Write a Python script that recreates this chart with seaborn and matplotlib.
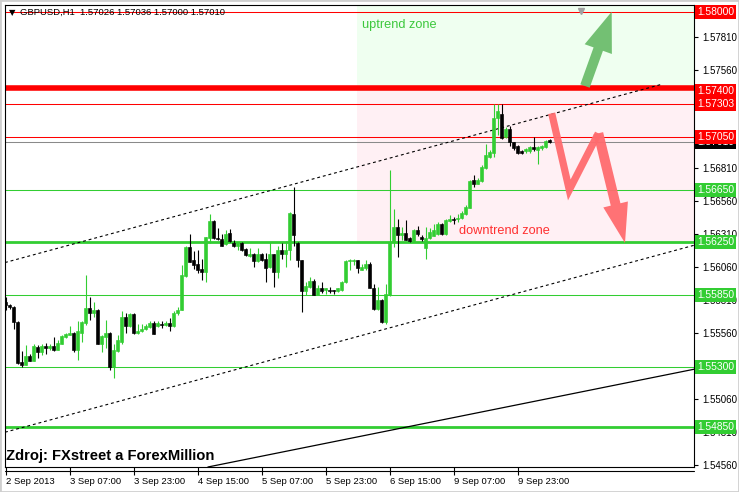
import numpy as np
import pandas as pd
import seaborn as sns
import matplotlib
matplotlib.use("Agg")
import matplotlib.pyplot as plt
from matplotlib.transforms import blended_transform_factory, ScaledTranslation
from matplotlib.patches import FancyArrowPatch, Rectangle

# ---------------- data (GBPUSD H1) ----------------
opens = [1.55794, 1.55771, 1.55761, 1.55648, 1.55339, 1.55319, 1.55384, 1.55349, 1.55455, 1.55417,
         1.55460, 1.55450, 1.55460, 1.55435, 1.55480, 1.55530, 1.55548, 1.55560, 1.55430, 1.55560,
         1.55635, 1.55748, 1.55711, 1.55736, 1.55475, 1.55530, 1.55560, 1.55304, 1.55425, 1.55492,
         1.55686, 1.55618, 1.55706, 1.55560, 1.55575, 1.55590, 1.55605, 1.55640, 1.55618, 1.55633,
         1.55623, 1.55638, 1.55618, 1.55711, 1.55738, 1.55995, 1.56216, 1.56115, 1.56085, 1.56048,
         1.56028, 1.56286, 1.56411, 1.56286, 1.56278, 1.56236, 1.56321, 1.56248, 1.56223, 1.56248,
         1.56198, 1.56148, 1.56160, 1.56110, 1.56160, 1.56120, 1.56060, 1.56160, 1.56028, 1.56190,
         1.56160, 1.56195, 1.56462, 1.56246, 1.56112, 1.55881, 1.55911, 1.55957, 1.55849, 1.55906,
         1.55886, 1.55891, 1.55886, 1.55881, 1.55886, 1.55949, 1.56107, 1.56107, 1.56117, 1.56042,
         1.56057, 1.56087, 1.55906, 1.55741, 1.55811, 1.55648, 1.55853, 1.56254, 1.56367, 1.56304,
         1.56322, 1.56279, 1.56262, 1.56342, 1.56292, 1.56204, 1.56284, 1.56300, 1.56309, 1.56392,
         1.56309, 1.56410, 1.56425, 1.56425, 1.56435, 1.56467, 1.56513, 1.56721, 1.56696, 1.56714,
         1.56814, 1.56897, 1.56929, 1.57197, 1.57222, 1.57047, 1.57110, 1.57009, 1.56979, 1.56946,
         1.56939, 1.56939, 1.56971, 1.56954, 1.56964, 1.56971, 1.57026]
highs = [1.55836, 1.55781, 1.55768, 1.55650, 1.55422, 1.55467, 1.55399, 1.55475, 1.55467, 1.55480,
         1.55485, 1.55480, 1.55530, 1.55510, 1.55543, 1.55560, 1.55618, 1.55565, 1.55655, 1.55655,
         1.56002, 1.55831, 1.55799, 1.55743, 1.55545, 1.55661, 1.55565, 1.55475, 1.55543, 1.55726,
         1.55711, 1.55711, 1.55711, 1.55630, 1.55630, 1.55630, 1.55650, 1.55650, 1.55655, 1.55650,
         1.55655, 1.55676, 1.55731, 1.55756, 1.56078, 1.56221, 1.56311, 1.56183, 1.56191, 1.56120,
         1.56291, 1.56467, 1.56416, 1.56361, 1.56316, 1.56346, 1.56354, 1.56266, 1.56253, 1.56253,
         1.56208, 1.56203, 1.56170, 1.56203, 1.56165, 1.56165, 1.56253, 1.56160, 1.56221, 1.56246,
         1.56261, 1.56479, 1.56667, 1.56253, 1.56112, 1.55949, 1.55987, 1.55974, 1.55924, 1.55949,
         1.55906, 1.55911, 1.55891, 1.55906, 1.55957, 1.56112, 1.56125, 1.56125, 1.56117, 1.56082,
         1.56112, 1.56100, 1.55936, 1.55911, 1.55816, 1.55936, 1.56799, 1.56505, 1.56430, 1.56367,
         1.56422, 1.56292, 1.56347, 1.56372, 1.56304, 1.56367, 1.56359, 1.56392, 1.56405, 1.56397,
         1.56425, 1.56455, 1.56442, 1.56467, 1.56485, 1.56535, 1.56721, 1.56759, 1.56734, 1.56834,
         1.56998, 1.56947, 1.57303, 1.57298, 1.57298, 1.57122, 1.57135, 1.57014, 1.56989, 1.56954,
         1.56964, 1.56979, 1.57047, 1.56979, 1.56989, 1.57029, 1.57036]
lows = [1.55736, 1.55743, 1.55593, 1.55329, 1.55304, 1.55317, 1.55347, 1.55347, 1.55374, 1.55392,
        1.55405, 1.55430, 1.55425, 1.55430, 1.55475, 1.55523, 1.55543, 1.55417, 1.55354, 1.55492,
        1.55623, 1.55660, 1.55680, 1.55475, 1.55417, 1.55447, 1.55284, 1.55216, 1.55417, 1.55480,
        1.55560, 1.55610, 1.55550, 1.55555, 1.55568, 1.55585, 1.55600, 1.55550, 1.55610, 1.55600,
        1.55618, 1.55580, 1.55610, 1.55701, 1.55734, 1.55990, 1.56098, 1.56045, 1.56015, 1.55965,
        1.55952, 1.56241, 1.56278, 1.56266, 1.56221, 1.56228, 1.56253, 1.56216, 1.56190, 1.56185,
        1.56145, 1.56140, 1.56060, 1.56103, 1.56110, 1.55952, 1.56052, 1.55914, 1.55977, 1.56123,
        1.56060, 1.56115, 1.56220, 1.56065, 1.55723, 1.55849, 1.55899, 1.55849, 1.55849, 1.55866,
        1.55856, 1.55866, 1.55856, 1.55874, 1.55881, 1.55941, 1.56037, 1.56075, 1.56017, 1.56037,
        1.56037, 1.55899, 1.55736, 1.55736, 1.55640, 1.55630, 1.55845, 1.56212, 1.56141, 1.56267,
        1.56264, 1.56254, 1.56254, 1.56297, 1.56259, 1.56124, 1.56274, 1.56294, 1.56304, 1.56304,
        1.56304, 1.56405, 1.56385, 1.56405, 1.56429, 1.56460, 1.56508, 1.56671, 1.56689, 1.56704,
        1.56807, 1.56889, 1.56896, 1.57061, 1.57034, 1.57039, 1.56984, 1.56954, 1.56921, 1.56921,
        1.56929, 1.56929, 1.56939, 1.56846, 1.56954, 1.56964, 1.57000]
closes = [1.55773, 1.55761, 1.55643, 1.55334, 1.55319, 1.55384, 1.55349, 1.55460, 1.55417, 1.55460,
          1.55447, 1.55460, 1.55435, 1.55485, 1.55535, 1.55553, 1.55560, 1.55430, 1.55573, 1.55643,
          1.55748, 1.55711, 1.55736, 1.55475, 1.55540, 1.55560, 1.55304, 1.55430, 1.55510, 1.55686,
          1.55618, 1.55706, 1.55560, 1.55580, 1.55595, 1.55615, 1.55635, 1.55555, 1.55635, 1.55625,
          1.55635, 1.55618, 1.55711, 1.55736, 1.56002, 1.56216, 1.56103, 1.56078, 1.56040, 1.56022,
          1.56291, 1.56411, 1.56286, 1.56273, 1.56223, 1.56316, 1.56258, 1.56223, 1.56248, 1.56190,
          1.56153, 1.56160, 1.56110, 1.56160, 1.56115, 1.56052, 1.56160, 1.56028, 1.56190, 1.56160,
          1.56195, 1.56472, 1.56303, 1.56115, 1.55881, 1.55916, 1.55957, 1.55849, 1.55906, 1.55881,
          1.55899, 1.55879, 1.55881, 1.55899, 1.55949, 1.56107, 1.56112, 1.56117, 1.56057, 1.56062,
          1.56087, 1.55906, 1.55741, 1.55811, 1.55648, 1.55856, 1.56254, 1.56367, 1.56304, 1.56322,
          1.56267, 1.56262, 1.56342, 1.56312, 1.56274, 1.56284, 1.56329, 1.56342, 1.56392, 1.56309,
          1.56417, 1.56425, 1.56417, 1.56435, 1.56475, 1.56518, 1.56714, 1.56689, 1.56721, 1.56822,
          1.56910, 1.56935, 1.57197, 1.57248, 1.57039, 1.57110, 1.57009, 1.56964, 1.56929, 1.56929,
          1.56959, 1.56971, 1.56959, 1.56971, 1.56984, 1.57021, 1.57010]

time_tick_pos = [0, 16, 32, 48, 64, 80, 96, 112, 128]
time_tick_labels = ["2 Sep 2013", "3 Sep 07:00", "3 Sep 23:00", "4 Sep 15:00", "5 Sep 07:00",
                    "5 Sep 23:00", "6 Sep 15:00", "9 Sep 07:00", "9 Sep 23:00"]
price_ticks = [1.5456, 1.5481, 1.5506, 1.5531, 1.5556, 1.5581, 1.5606, 1.5631,
               1.5656, 1.5681, 1.5706, 1.5731, 1.5756, 1.5781]
hidden_tick_labels = [1.5531, 1.5706, 1.5731]   # fully covered by level boxes in the reference

red_levels = [1.58000, 1.57400, 1.57303, 1.57050]
red_widths = [0.75, 4.0, 0.75, 0.75]
green_levels = [1.56650, 1.56250, 1.55850, 1.55300, 1.54850]
green_widths = [0.75, 2.0, 0.75, 0.75, 2.0]
current_price = 1.57010
header = "GBPUSD,H1  1.57026 1.57036 1.57000 1.57010"

zone_start = 87.95
upper_channel_x = [-0.125, 164.05]
upper_channel_y = [1.56096, 1.57449]
lower_channel_x = [-0.125, 172.125]
lower_channel_y = [1.54808, 1.56227]
solid_line_x = [50.6, 172.125]
solid_line_y = [1.54544, 1.55286]
green_arrow_x = [144.875, 151.55]
green_arrow_y = [1.57436, 1.58000]
red_path_x = [136.55, 140.95, 148.2, 154.875]
red_path_y = [1.57229, 1.56647, 1.57077, 1.56244]

XLIM = (-0.125, 172.125)
YLIM = (1.54544, 1.58051)

# ---------------- style ----------------
sns.set_theme(style="white")
plt.rcParams["font.family"] = ["Liberation Sans", "DejaVu Sans"]

GREEN = "#32cd32"
RED = "#ff0000"

df = pd.DataFrame({"idx": np.arange(len(opens)), "open": opens, "high": highs,
                   "low": lows, "close": closes})
df["bull"] = df["close"] >= df["open"]
df["color"] = np.where(df["bull"], GREEN, "#000000")
df["body_lo"] = df[["open", "close"]].min(axis=1)
df["body_h"] = (df["close"] - df["open"]).abs().clip(lower=0.00002)

fig = plt.figure(figsize=(7.39, 4.92), dpi=100)
fig.patch.set_facecolor("white")
ax = fig.add_axes([5 / 739, 25 / 492, 689 / 739, 462 / 492])
ax.set_facecolor("white")
ax.set_xlim(*XLIM)
ax.set_ylim(*YLIM)

# zones
ax.fill_between([zone_start, XLIM[1]], red_levels[1], YLIM[1], color="#effff0", lw=0, zorder=0)
ax.fill_between([zone_start, XLIM[1]], green_levels[1], red_levels[1], color="#fff0f4", lw=0, zorder=0)

# horizontal levels
for lv, w in zip(red_levels, red_widths):
    tr = ax.transData
    if w > 2:
        tr = ax.transData + ScaledTranslation(0, 2.6 / 100, fig.dpi_scale_trans)
    ax.plot(XLIM, [lv, lv], color=RED, lw=w, zorder=2, transform=tr, solid_capstyle="butt")
for lv, w in zip(green_levels, green_widths):
    ax.plot(XLIM, [lv, lv], color=GREEN, lw=w, zorder=2, solid_capstyle="butt")
ax.plot(XLIM, [current_price, current_price], color="#8a8a8a", lw=0.75, zorder=2)

# channel lines
sns.lineplot(x=upper_channel_x, y=upper_channel_y, ax=ax, color="black", lw=0.8,
             linestyle=(0, (2.6, 2.6)), zorder=3)
sns.lineplot(x=lower_channel_x, y=lower_channel_y, ax=ax, color="black", lw=0.8,
             linestyle=(0, (2.6, 2.6)), zorder=3)
sns.lineplot(x=solid_line_x, y=solid_line_y, ax=ax, color="black", lw=0.9, zorder=3)

# candles
ax.vlines(df["idx"], df["low"], df["high"], colors=df["color"], lw=0.8, zorder=4)
ax.bar(df["idx"], df["body_h"], bottom=df["body_lo"], width=0.62, color=df["color"],
       edgecolor=df["color"], linewidth=0.45, zorder=5)

# zone texts
ax.text(89.1, 1.57899, "uptrend zone", color="#3cc83c", fontsize=9.2, va="center", ha="left", zorder=6)
ax.text(113.4, 1.56338, "downtrend zone", color="#ff2f2f", fontsize=9.2, va="center", ha="left", zorder=6)

# arrows
ga = FancyArrowPatch((green_arrow_x[0], green_arrow_y[0]), (green_arrow_x[1], green_arrow_y[1]),
                     arrowstyle="simple,head_length=2.2,head_width=1.6,tail_width=0.55",
                     mutation_scale=13, color="#6cbd6c", lw=0, shrinkA=0, shrinkB=0, zorder=7, alpha=0.95)
ax.add_patch(ga)
ax.plot(red_path_x[:3], red_path_y[:3], color="#ff6b6e", lw=5.2, solid_joinstyle="miter",
        solid_capstyle="butt", zorder=7, alpha=0.95)
ra = FancyArrowPatch((red_path_x[2], red_path_y[2]), (red_path_x[3], red_path_y[3]),
                     arrowstyle="simple,head_length=2.2,head_width=1.4,tail_width=0.55",
                     mutation_scale=13, color="#ff6b6e", lw=0, shrinkA=0, shrinkB=0, zorder=7, alpha=0.95)
ax.add_patch(ra)

# spines
for s in ax.spines.values():
    s.set_visible(True)
    s.set_color("black")
    s.set_linewidth(0.8)
ax.plot([0, 1], [-4 / 462, -4 / 462], transform=ax.transAxes, clip_on=False, color="black", lw=0.8)

# y ticks on right
ax.yaxis.tick_right()
ax.set_yticks(price_ticks)
ax.set_yticklabels(["" if v in hidden_tick_labels else f"{v:.5f}" for v in price_ticks])
ax.tick_params(axis="y", which="both", left=False, right=True, labelleft=False, labelright=True,
               length=3, width=0.8, pad=3, labelsize=7, colors="black", direction="out")

# x ticks
ax.set_xticks(time_tick_pos)
ax.set_xticklabels(time_tick_labels)
ax.tick_params(axis="x", which="both", bottom=True, top=False, length=6, width=0.8, pad=1.5,
               labelsize=6.8, colors="black", direction="out")
for lab in ax.get_xticklabels():
    lab.set_horizontalalignment("left")
ax.grid(False)

# level label boxes on the right axis
btr = blended_transform_factory(ax.transAxes, ax.transData)
box_kw = dict(transform=btr, fontsize=7.4, color="white", va="center", ha="left", clip_on=False)
ax.text(1.0045, current_price, f"{current_price:.5f}", zorder=9,
        bbox=dict(boxstyle="square,pad=0.2", fc="black", ec="none"), **box_kw)
for lv in red_levels:
    ax.text(1.0045, lv, f"{lv:.5f}", zorder=10,
            bbox=dict(boxstyle="square,pad=0.2", fc=RED, ec="none"), **box_kw)
for lv in green_levels:
    ax.text(1.0045, lv, f"{lv:.5f}", zorder=10,
            bbox=dict(boxstyle="square,pad=0.2", fc=GREEN, ec="none"), **box_kw)

# header and source
fig.text(9 / 739, 1 - 12.5 / 492, "\u25bc", fontsize=6, family="DejaVu Sans", va="center", ha="left", color="black")
fig.text(20.5 / 739, 1 - 12.5 / 492, header, fontsize=6.8, va="center", ha="left", color="black")
fig.text(6.5 / 739, 1 - 456 / 492, "Zdroj: FXstreet a ForexMillion", fontsize=10.6, fontweight="bold",
         va="center", ha="left", color="black")
# shift marker
ax.plot([143.9], [0.988], transform=blended_transform_factory(ax.transData, ax.transAxes),
        marker="v", ms=5, color="#a0a0a0", clip_on=False, zorder=8)

fig.patches.append(Rectangle((0, 0), 1, 1, transform=fig.transFigure, fill=False,
                             edgecolor="#cfcfcf", lw=2))

fig.savefig("out.png", dpi=100)
